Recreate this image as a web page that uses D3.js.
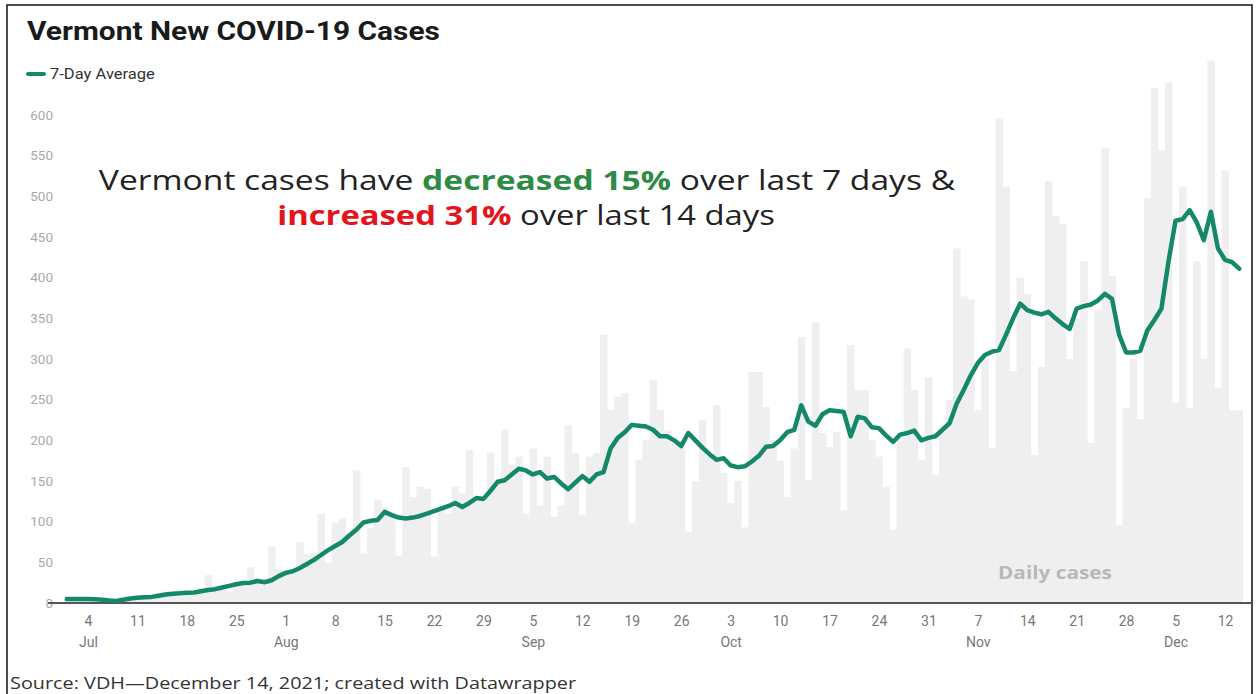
<!DOCTYPE html>
<html lang="en">
<head>
<meta charset="UTF-8">
<title>Vermont New COVID-19 Cases</title>
<script src="https://d3js.org/d3.v7.min.js"></script>
<style>
  body { margin: 0; background: #fff; }
  svg { display: block; }
</style>
</head>
<body>
<div id="chart"></div>
<script>
// first day of both series
var startDay = Date.UTC(2021, 6, 1);

// daily cases (grey bars), Jul 1 - Dec 14
var dailyCases = [
  6, 4, 7, 3, 2, 6, 4,
  1, 8, 5, 9, 10, 6, 12,
  14, 11, 8, 15, 12, 18, 34,
  22, 16, 14, 27, 25, 44, 30,
  22, 69, 42, 40, 36, 75, 60,
  62, 110, 49, 98, 104, 85, 163,
  61, 92, 127, 118, 112, 58, 167,
  130, 143, 140, 57, 120, 110, 143,
  135, 188, 130, 125, 185, 150, 213,
  170, 180, 110, 190, 120, 180, 106,
  120, 219, 184, 108, 180, 184, 330,
  237, 254, 258, 98, 176, 200, 274,
  237, 212, 195, 200, 87, 150, 225,
  180, 243, 160, 123, 150, 93, 284,
  284, 241, 200, 175, 130, 190, 327,
  151, 345, 209, 192, 210, 114, 317,
  262, 262, 200, 180, 143, 90, 200,
  313, 262, 176, 278, 157, 210, 250,
  436, 377, 373, 237, 300, 190, 596,
  512, 285, 400, 380, 182, 290, 519,
  476, 466, 300, 350, 420, 197, 360,
  559, 402, 96, 240, 300, 226, 498,
  633, 557, 640, 246, 512, 240, 420,
  300, 667, 264, 532, 237, 237
];

// 7-day average (green line), same days
var avg7 = [
  5, 5, 5, 5, 4.5, 4, 3,
  2.5, 4, 5.5, 6.5, 7, 7.5, 9,
  10.5, 11.5, 12, 12.5, 13, 14.5, 16,
  17, 19, 21, 23, 24.5, 25, 27,
  25.5, 28, 33, 37, 39, 43, 48,
  53, 59, 65, 70, 75, 83, 90,
  99, 101, 102, 112, 108, 105, 104,
  105, 107, 110, 113, 116, 119, 123,
  118, 123, 129, 128, 138, 149, 151,
  158, 165, 163, 158, 161, 153, 155,
  147, 140, 148, 156, 149, 158, 161,
  190, 203, 210, 219, 218, 217, 213,
  205, 205, 200, 193, 209, 200, 191,
  183, 176, 178, 169, 167, 168, 174,
  181, 192, 193, 200, 210, 213, 243,
  223, 218, 232, 237, 236, 235, 205,
  229, 227, 216, 215, 206, 198, 207,
  209, 212, 200, 203, 205, 213, 221,
  245, 262, 280, 295, 305, 309, 311,
  330, 350, 368, 360, 357, 355, 358,
  350, 343, 337, 362, 365, 367, 372,
  380, 374, 330, 308, 308, 310, 335,
  348, 362, 420, 470, 472, 483, 468,
  446, 481, 436, 422, 419, 411
];

var yTicks = [0, 50, 100, 150, 200, 250, 300, 350, 400, 450, 500, 550, 600];
var monthNames = ["Jan", "Feb", "Mar", "Apr", "May", "Jun", "Jul", "Aug", "Sep", "Oct", "Nov", "Dec"];

var dates = dailyCases.map(function(d, i) { return d3.utcDay.offset(new Date(startDay), i); });

var W = 1256, H = 694;
var svg = d3.select("#chart").append("svg")
  .attr("width", W)
  .attr("height", H);

// frame of the screenshot
svg.append("path")
  .attr("d", "M7,694 V5 H1252 V694")
  .attr("fill", "none")
  .attr("stroke", "#111")
  .attr("stroke-width", 1.5);

var x = d3.scaleUtc()
  .domain([new Date(Date.UTC(2021, 6, 4)), new Date(Date.UTC(2021, 11, 12))])
  .range([88, 1225]);

var y = d3.scaleLinear()
  .domain([0, 600])
  .range([603, 115]);

var bw = x(dates[1]) - x(dates[0]);

// the reference screenshot is a bit stretched sideways, so texts are
// widened to the width they have there
function fitX(sel, w) {
  var cur = sel.node().getBBox().width;
  var ax = +sel.attr("x");
  sel.attr("transform", "translate(" + ax + ",0) scale(" + (w / cur) + ",1) translate(" + (-ax) + ",0)");
}

// title
var title = svg.append("text")
  .attr("x", 27).attr("y", 40)
  .style("font", "bold 26px Roboto")
  .attr("fill", "#1a1a1a")
  .text("Vermont New COVID-19 Cases");
fitX(title, 413);

// legend
svg.append("line")
  .attr("x1", 28).attr("x2", 44).attr("y1", 74).attr("y2", 74)
  .attr("stroke", "#14896a").attr("stroke-width", 4).attr("stroke-linecap", "round");
var leg = svg.append("text")
  .attr("x", 50).attr("y", 79)
  .style("font", "14px Roboto")
  .attr("fill", "#333")
  .text("7-Day Average");
fitX(leg, 105);

// daily bars
svg.append("g").selectAll("rect")
  .data(dailyCases)
  .enter().append("rect")
  .attr("x", function(d, i) { return x(dates[i]) - bw / 2; })
  .attr("y", function(d) { return y(d); })
  .attr("width", bw + 0.4)
  .attr("height", function(d) { return y(0) - y(d); })
  .attr("fill", "#efefef");

// y labels
var yAxis = svg.append("g")
  .attr("transform", "translate(53,0)")
  .call(d3.axisLeft(y).tickValues(yTicks).tickSize(0).tickPadding(0));
yAxis.select(".domain").remove();
yAxis.selectAll("text")
  .style("font", "13.5px Roboto")
  .attr("fill", "#aaa");

// x labels: weekly on Sundays, month under the first one of each month
var sundays = d3.utcSunday.range(x.domain()[0], d3.utcDay.offset(x.domain()[1], 1));
var xAxis = svg.append("g")
  .attr("transform", "translate(0,603)")
  .call(d3.axisBottom(x).tickValues(sundays).tickSize(0).tickPadding(13)
    .tickFormat(d3.utcFormat("%-d")));
xAxis.select(".domain").remove();
xAxis.selectAll("text")
  .style("font", "14px Roboto")
  .attr("fill", "#777");
xAxis.selectAll(".tick")
  .filter(function(d) { return d.getUTCDate() <= 7; })
  .append("text")
  .attr("y", 44)
  .attr("text-anchor", "middle")
  .style("font", "14px Roboto")
  .attr("fill", "#777")
  .text(function(d) { return monthNames[d.getUTCMonth()]; });

// baseline
svg.append("line")
  .attr("x1", 48).attr("x2", 1252)
  .attr("y1", y(0)).attr("y2", y(0))
  .attr("stroke", "#555").attr("stroke-width", 2);

// 7-day average line
var line = d3.line()
  .x(function(d, i) { return x(dates[i]); })
  .y(function(d) { return y(d); });
svg.append("path")
  .datum(avg7)
  .attr("d", line)
  .attr("fill", "none")
  .attr("stroke", "#14896a")
  .attr("stroke-width", 4.5)
  .attr("stroke-linejoin", "round")
  .attr("stroke-linecap", "round");

// annotation
var note1 = svg.append("text")
  .attr("x", 527).attr("y", 190)
  .attr("text-anchor", "middle")
  .style("font-family", "'Open Sans'").style("font-size", "27px")
  .attr("fill", "#222");
note1.append("tspan").text("Vermont cases have ");
note1.append("tspan").attr("font-weight", "bold").attr("fill", "#2e8b45").text("decreased 15%");
note1.append("tspan").text(" over last 7 days &");
fitX(note1, 857);

var note2 = svg.append("text")
  .attr("x", 526).attr("y", 225)
  .attr("text-anchor", "middle")
  .style("font-family", "'Open Sans'").style("font-size", "27px")
  .attr("fill", "#222");
note2.append("tspan").attr("font-weight", "bold").attr("fill", "#e3141c").text("increased 31%");
note2.append("tspan").text(" over last 14 days");
fitX(note2, 498);

var daily = svg.append("text")
  .attr("x", 998).attr("y", 579)
  .style("font-family", "'Open Sans'").style("font-size", "17px").style("font-weight", "bold")
  .attr("fill", "#b8b8b8")
  .text("Daily cases");
fitX(daily, 114);

// source
var src = svg.append("text")
  .attr("x", 10).attr("y", 689)
  .style("font-family", "'Open Sans'").style("font-size", "16px")
  .attr("fill", "#333")
  .text("Source: VDH\u2014December 14, 2021; created with Datawrapper");
fitX(src, 567);
</script>
</body>
</html>
